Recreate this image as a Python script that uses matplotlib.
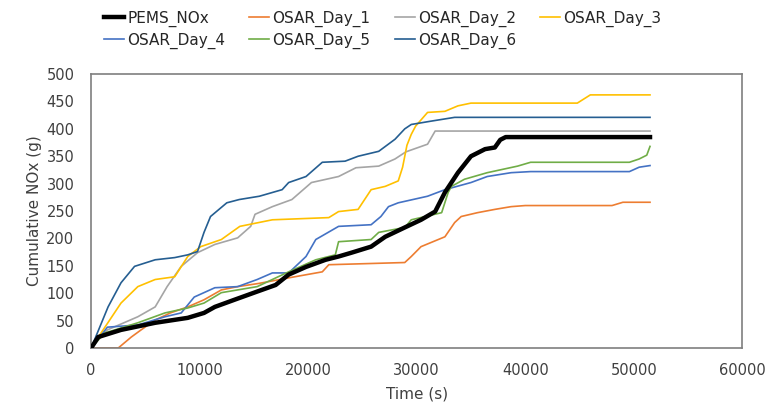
import matplotlib.pyplot as plt

plt.rcParams['font.family'] = ['DejaVu Sans']

# cumulative NOx (g) vs time (s)
pems_t = [0, 650, 2750, 5900, 8900, 10400, 11400, 13200, 15300, 17000, 18200, 19800, 21600, 22800,
          24000, 25800, 27100, 28900, 30400, 31700, 32600, 33800, 35000, 36300, 37200, 37700, 38200, 51500]
pems_v = [0, 20, 33, 46, 55, 64, 75, 88, 103, 115, 134, 148, 161, 167,
          174, 185, 203, 220, 234, 249, 284, 320, 350, 363, 366, 380, 385, 385]

day1_t = [0, 2500, 3700, 4600, 5900, 7300, 8900, 10400, 12000, 13500, 15500, 18200, 21300, 21900,
          28900, 29500, 30400, 32600, 33500, 34100, 35600, 37200, 38700, 40000, 48000, 49000, 51500]
day1_v = [0, 0, 20, 33, 51, 64, 75, 88, 106, 112, 118, 128, 139, 152,
          156, 167, 185, 203, 229, 240, 247, 253, 258, 260, 260, 266, 266]

day2_t = [0, 1500, 4300, 5900, 7000, 8300, 9800, 11400, 13500, 14700, 15100, 16700, 18500, 20300,
          22800, 24400, 26500, 28000, 29000, 31000, 31700, 51500]
day2_v = [0, 33, 57, 75, 112, 149, 174, 189, 201, 222, 244, 258, 271, 302,
          313, 329, 332, 345, 358, 372, 396, 396]

day3_t = [0, 900, 2750, 4300, 5900, 7700, 8900, 10100, 12000, 13700, 16700, 21900, 22800, 24600,
          25800, 27100, 28300, 28700, 29100, 29500, 29900, 31000, 32600, 33800, 35000, 44800, 46000, 51500]
day3_v = [0, 27, 82, 112, 125, 130, 167, 185, 198, 222, 234, 238, 249, 253,
          289, 295, 305, 330, 370, 390, 405, 430, 432, 442, 447, 447, 462, 462]

day4_t = [0, 1500, 4300, 6800, 8300, 9500, 11400, 13500, 15300, 16700, 18200, 19800, 20700, 22800,
          25800, 26700, 27400, 28300, 31000, 32600, 35000, 36500, 38700, 40500, 49600, 50500, 51500]
day4_v = [0, 38, 42, 57, 64, 93, 110, 112, 125, 137, 137, 167, 198, 222,
          225, 240, 258, 265, 277, 289, 302, 313, 320, 322, 322, 330, 333]

day5_t = [0, 1200, 4300, 6800, 8900, 10400, 12000, 15300, 18200, 20700, 22500, 22800, 25800, 26500,
          28900, 29500, 32300, 32900, 33200, 34400, 36500, 39300, 40500, 49600, 50500, 51200, 51500]
day5_v = [0, 27, 46, 64, 73, 82, 101, 112, 139, 161, 170, 194, 198, 211,
          220, 234, 247, 284, 295, 308, 320, 332, 339, 339, 345, 352, 368]

day6_t = [0, 1560, 2750, 4000, 5900, 7700, 8900, 9800, 10400, 11000, 12500, 13650, 15500, 17600,
          18200, 19800, 21300, 23400, 24600, 26500, 28000, 28900, 29500, 31300, 33500, 51500]
day6_v = [0, 75, 119, 149, 161, 165, 170, 176, 211, 240, 265, 271, 277, 289,
          302, 313, 339, 341, 350, 359, 381, 400, 408, 414, 421, 421]

fig = plt.figure(figsize=(7.66, 4.07), dpi=100)
ax = fig.add_axes([0.119, 0.145, 0.850, 0.673])

h_pems, = ax.plot(pems_t, pems_v, color='black', lw=3.2, label='PEMS_NOx', zorder=5)
h1, = ax.plot(day1_t, day1_v, color='#ED7D31', lw=1.2, label='OSAR_Day_1')
h2, = ax.plot(day2_t, day2_v, color='#A5A5A5', lw=1.2, label='OSAR_Day_2')
h3, = ax.plot(day3_t, day3_v, color='#FFC000', lw=1.2, label='OSAR_Day_3')
h4, = ax.plot(day4_t, day4_v, color='#4472C4', lw=1.2, label='OSAR_Day_4')
h5, = ax.plot(day5_t, day5_v, color='#70AD47', lw=1.2, label='OSAR_Day_5')
h6, = ax.plot(day6_t, day6_v, color='#255E91', lw=1.2, label='OSAR_Day_6')

ax.set_xlim(0, 60000)
ax.set_ylim(0, 500)
ax.set_xticks(range(0, 60001, 10000))
ax.set_yticks(range(0, 501, 50))
ax.tick_params(length=0, labelsize=10.5, colors='#404040')
ax.tick_params(axis='y', pad=12)
ax.tick_params(axis='x', pad=11)
for s in ax.spines.values():
    s.set_color('#7f7f7f')
    s.set_linewidth(1.2)

ax.set_xlabel('Time (s)', fontsize=11, color='#404040', labelpad=6)
ax.set_ylabel('Cumulative NOx (g)', fontsize=11, color='#404040', labelpad=3)

# column-major order so rows read PEMS, Day_1..3 / Day_4..6
handles = [h_pems, h4, h1, h5, h2, h6, h3]
fig.legend(handles=handles, labels=[h.get_label() for h in handles], ncol=4,
           loc='upper left', bbox_to_anchor=(0.118, 1.008), frameon=False,
           fontsize=11, handlelength=1.3, handletextpad=0.2, columnspacing=1.6,
           labelspacing=0.4, labelcolor='#262626')

fig.savefig('out.png', dpi=100)
